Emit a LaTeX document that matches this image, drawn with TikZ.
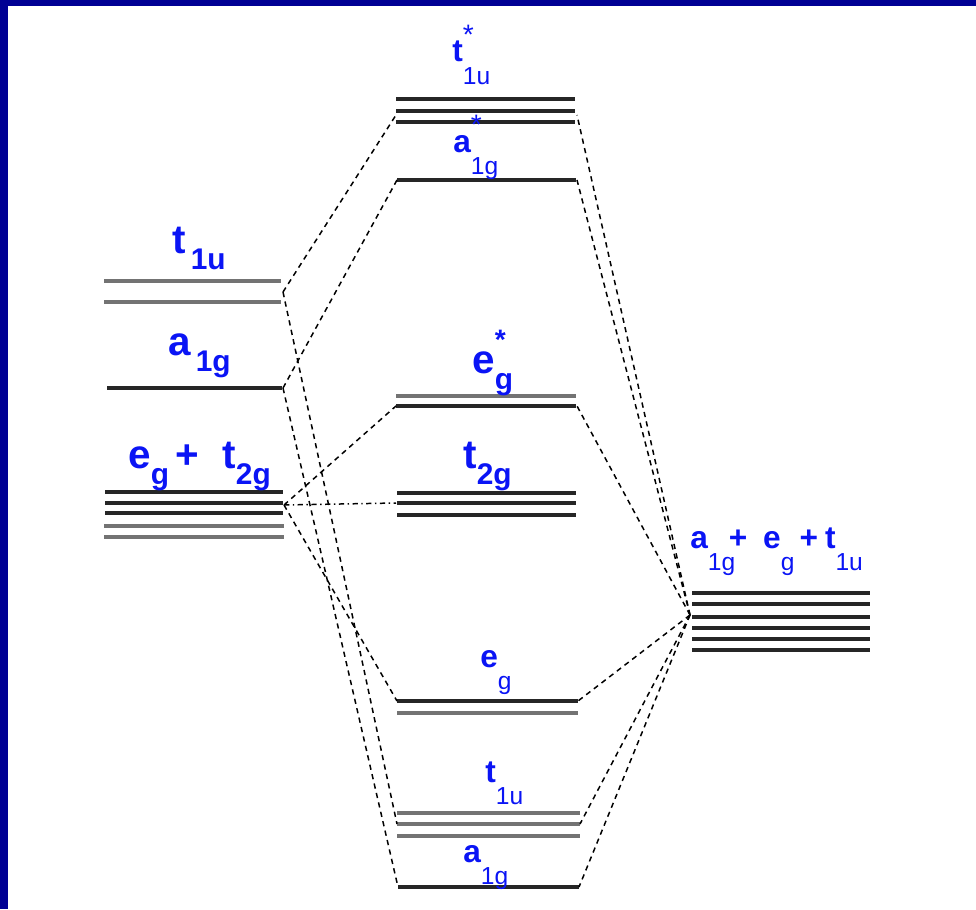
\documentclass[tikz,border=0pt]{standalone}
\usepackage{fontspec}
\setmainfont{Liberation Sans}
\usepackage{xcolor}
\definecolor{frameblue}{RGB}{0,0,148}
\definecolor{orbblue}{RGB}{10,20,245}
% orbital label: letter, star, subscript (large and small set)
\newcommand{\orbA}[3]{#1\rlap{\raisebox{0.58em}{\fontsize{16}{16}\selectfont #2}}\raisebox{-0.4em}{\fontsize{17}{17}\selectfont #3}}
\newcommand{\orbB}[3]{#1\rlap{\raisebox{0.55em}{\fontsize{16}{16}\mdseries\selectfont #2}}\raisebox{-0.7em}{\fontsize{14}{14}\mdseries\selectfont #3}}

\begin{document}
\begin{tikzpicture}[
    x=0.02cm, y=-0.02cm,
    lvl/.style={line width=1.9pt, black!85},
    lvlg/.style={line width=1.9pt, black!55},
    conn/.style={dash pattern=on 3pt off 2.5pt, line width=0.85pt},
    lab/.style={inner sep=0pt, anchor=base west, text=orbblue, font=\bfseries\fontsize{23}{23}\selectfont},
    slab/.style={lab, font=\bfseries\fontsize{18}{18}\selectfont}
  ]
  \useasboundingbox (0,0) rectangle (976,909);
  \fill[white] (0,0) rectangle (976,909);
  \fill[frameblue] (0,0) rectangle (8,909);
  \fill[frameblue] (0,0) rectangle (976,6);

  % metal orbitals (left)
  \foreach \y in {281,302} \draw[lvlg] (104,\y) -- (281,\y);
  \draw[lvl] (107,388) -- (282,388);
  \foreach \y in {492,503,513} \draw[lvl] (105,\y) -- (283,\y);
  \foreach \y in {526,537} \draw[lvlg] (104,\y) -- (284,\y);
  \coordinate (lt1u) at (283,292);
  \coordinate (la1g) at (283,388);
  \coordinate (leg) at (284,505);

  % molecular orbitals (middle)
  \foreach \y in {99,111,122} \draw[lvl] (396,\y) -- (575,\y);
  \draw[lvl] (397,180) -- (576,180);
  \draw[lvlg] (396,396) -- (576,396);
  \draw[lvl] (396,406) -- (576,406);
  \foreach \y in {493,503,515} \draw[lvl] (397,\y) -- (576,\y);
  \draw[lvl] (397,701) -- (578,701);
  \draw[lvlg] (397,713) -- (578,713);
  \foreach \y in {813,824,836} \draw[lvlg] (397,\y) -- (580,\y);
  \draw[lvl] (398,887) -- (579,887);
  \coordinate (mt1us-l) at (396,115);  \coordinate (mt1us-r) at (577,115);
  \coordinate (ma1gs-l) at (397,180);  \coordinate (ma1gs-r) at (577,180);
  \coordinate (megs-l) at (396,406);   \coordinate (megs-r) at (577,406);
  \coordinate (mt2g-l) at (396,503);
  \coordinate (meg-l) at (397,701);    \coordinate (meg-r) at (578,701);
  \coordinate (mt1u-l) at (397,824);   \coordinate (mt1u-r) at (580,824);
  \coordinate (ma1g-l) at (398,887);   \coordinate (ma1g-r) at (579,887);

  % ligand orbitals (right)
  \foreach \y in {593,604,617,628,639,650} \draw[lvl] (692,\y) -- (870,\y);
  \coordinate (rgrp) at (690,615);

  % labels
  \node[lab] (lab-lt1u) at (172,253) {\orbA{t}{}{\,1u}};
  \node[lab] (lab-la1g) at (168,355) {\orbA{a}{}{\,1g}};
  \node[lab] (lab-leg) at (128,468) {\orbA{e}{}{g}\,+\hspace{0.57em}\orbA{t}{}{2g}};
  \node[slab] (lab-mt1us) at (452,62) {\orbB{t}{*}{1u}};
  \node[slab] (lab-ma1gs) at (453,152) {\orbB{a}{*}{1g}};
  \node[lab] (lab-megs) at (472,373) {\orbA{e}{*}{g}};
  \node[lab] (lab-mt2g) at (463,468) {\orbA{t}{}{2g}};
  \node[slab] (lab-meg) at (480,667) {\orbB{e}{}{g}};
  \node[slab] (lab-mt1u) at (485,782) {\orbB{t}{}{1u}};
  \node[slab] (lab-ma1g) at (463,862) {\orbB{a}{}{1g}};
  \node[slab] (lab-rgrp) at (690,548) {\orbB{a}{}{1g}\hspace{-0.2em}+\hspace{0.5em}\orbB{e}{}{g}\hspace{0.16em}+\hspace{0.22em}\orbB{t}{}{1u}};

  % correlation lines
  \draw[conn] (lt1u) -- (mt1us-l);
  \draw[conn] (lt1u) -- (mt1u-l);
  \draw[conn] (la1g) -- (ma1gs-l);
  \draw[conn] (la1g) -- (ma1g-l);
  \draw[conn] (leg) -- (megs-l);
  \draw[conn, dash pattern=on 3pt off 2pt on 0.8pt off 2pt] (leg) -- (mt2g-l);
  \draw[conn] (leg) -- (meg-l);
  \draw[conn] (rgrp) -- (mt1us-r);
  \draw[conn] (rgrp) -- (ma1gs-r);
  \draw[conn] (rgrp) -- (megs-r);
  \draw[conn] (rgrp) -- (meg-r);
  \draw[conn] (rgrp) -- (mt1u-r);
  \draw[conn] (rgrp) -- (ma1g-r);
\end{tikzpicture}
\end{document}
